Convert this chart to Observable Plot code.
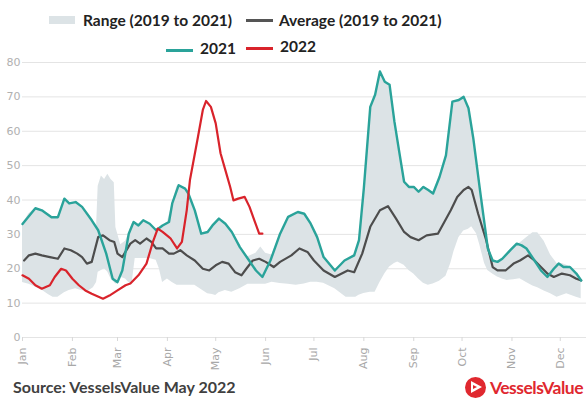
<!DOCTYPE html>
<html><head><meta charset="utf-8">
<script src="https://cdn.jsdelivr.net/npm/d3@7"></script>
<script src="https://cdn.jsdelivr.net/npm/@observablehq/plot@0.6"></script>
<style>
body{margin:0;background:#fff;}
#wrap{position:relative;width:586px;height:400px;overflow:hidden;font-family:Lato,"Open Sans",sans-serif;}
.lt{position:absolute;font-weight:700;font-size:15.5px;color:#222;white-space:nowrap;line-height:16px;}
.sw{position:absolute;}
#chart{position:absolute;left:0;top:56px;}
#cap{position:absolute;left:13px;top:378px;font-weight:700;font-size:16px;color:#404040;white-space:nowrap;line-height:18px;}
#logo{position:absolute;left:465px;top:377px;width:21px;height:21px;border-radius:50%;background:#e0282f;}
#tri{position:absolute;left:6px;top:4px;width:0;height:0;border-top:6.5px solid transparent;border-bottom:6.5px solid transparent;border-left:11px solid #fff;}
#tri2{position:absolute;left:8px;top:8px;width:0;height:0;border-top:2.5px solid transparent;border-bottom:2.5px solid transparent;border-left:4px solid #e0282f;}
#brand{position:absolute;left:490px;top:377px;font-weight:700;font-size:17.5px;color:#e0282f;white-space:nowrap;line-height:22px;letter-spacing:-0.5px;}
</style></head>
<body>
<div id="wrap">
  <div class="sw" style="left:49px;top:16px;width:26px;height:8px;background:#dce3e6"></div>
  <div class="lt" style="left:83px;top:12px">Range (2019 to 2021)</div>
  <div class="sw" style="left:246px;top:19px;width:27px;height:3px;background:#555"></div>
  <div class="lt" style="left:279px;top:12px">Average (2019 to 2021)</div>
  <div class="sw" style="left:166px;top:49px;width:27px;height:3px;background:#2aa39a"></div>
  <div class="lt" style="left:200px;top:40px">2021</div>
  <div class="sw" style="left:246px;top:47px;width:27px;height:3px;background:#d9232b"></div>
  <div class="lt" style="left:280px;top:38px">2022</div>
  <div id="chart"></div>
  <div id="cap">Source: VesselsValue May 2022</div>
  <div id="logo"><div id="tri"></div><div id="tri2"></div></div>
  <div id="brand">VesselsValue</div>
</div>
<script>
// x values are day offsets from 1 Jan
const yTicks = [0, 10, 20, 30, 40, 50, 60, 70, 80];
const monthDays = [0, 31, 59, 90, 120, 151, 181, 212, 243, 273, 304, 334];
const monthNames = ["Jan","Feb","Mar","Apr","May","Jun","Jul","Aug","Sep","Oct","Nov","Dec"];

const bandDays = [0,4,8,12,16,19,22,26,29,33,37,41,44,46,47,49,51,53,55,57,58,61,64,66,68,70,72,75,79,83,85,87,90,93,96,99,101,103,107,111,115,118,120,122,126,130,135,140,145,148,151,155,160,165,170,175,179,183,187,194,201,207,209,212,216,219,222,225,228,231,233,237,240,243,246,249,252,255,259,263,266,268,271,274,277,279,282,284,287,289,292,295,298,301,305,309,313,317,320,324,328,332,335,338,341,344,347];
const bandLow = [16,15.5,14.7,13.8,12.5,11.7,11.7,13,13.7,14.2,13.6,13.5,14.5,16,19,19.5,20,19,17,16,15.5,17.5,17,16,15.5,23,23,23,23,22.5,20,16,17,16,15.2,15.2,15.2,15.2,15.2,14,12.7,12.5,12.2,13,13.7,13.2,14.2,15.5,15.5,15.5,15.5,16.1,15.7,15.5,15.2,15.6,16.1,16.1,15.8,14.2,11.7,11.7,12.3,12.8,13.2,13.2,16,18.5,20.5,21.5,22,21,19.5,18.5,17,15.8,15.2,15.6,16.4,17.8,21.5,25,29,31,31.5,32.2,30.2,27,21.5,19.5,18.5,17.6,17,16.6,16.8,17.1,16,15,14.5,13.5,12.7,11.7,12.2,12.7,12.2,11.7,11.3];
const bandHigh = [33,36,37.6,37,36,35,35,40.4,39,39.4,38,36,34,32,44,47,46,47.5,46,45,32,27,28,30.2,33,33.5,32.6,34.1,33.1,31.2,32,32.6,33.5,39,44,44,43.3,41.9,37,30.2,30.7,32.6,33.5,34.6,33.1,30.7,26.3,23.5,24.5,26.3,24.5,24,30.2,35.1,36.5,36,33.1,29.2,23.4,19.8,22.4,24.5,28.3,43.4,67.1,70.6,77.4,74.4,73.5,62.8,57,45.3,43.8,43.8,42.4,43.8,42.9,41.9,46.7,53,62,68.6,69.1,70,66.7,62,50,43.4,31,25.9,22.4,22,22.9,24,26.5,27.5,29,30.5,30.5,28,24,21.5,21.5,21,20.3,18.6,17];

const avgDays = [1,4,8,12,17,22,26,30,34,37,40,43,47,50,54,57,59,62,67,70,73,77,80,83,87,91,94,98,102,107,112,116,120,124,128,132,136,139,143,147,151,156,160,167,172,177,181,187,194,202,206,211,216,222,227,232,237,241,246,251,258,262,266,270,274,277,279,283,288,292,295,300,305,309,314,318,322,326,330,335,340,344,347];
const avgVals = [22.4,23.9,24.4,23.9,23.4,22.9,25.9,25.4,24.4,23.4,21.5,22,29.2,29.7,28.3,27.8,24.4,23.4,27.3,28.3,27.3,28.8,27.8,25.9,25.9,24.4,24.4,25.4,23.9,22.4,20,19.5,21,22,21.5,19,18.1,20,22.4,22.9,22,20.5,22,23.9,25.9,24.9,22.4,19.5,17.6,19.5,19,24.4,32.2,37,38.2,34.6,30.7,29.2,28.3,29.7,30.2,33.6,37,40.9,42.9,43.8,42.9,36,28.3,20.5,19.5,19.5,21.5,22.4,23.9,22.4,20.5,18.6,17.6,18.6,18.1,17.1,16.6];

const days2021 = [0,8,12,18,22,26,29,33,37,43,47,52,56,59,62,66,69,72,75,79,83,87,91,93,97,101,103,107,111,115,118,122,126,130,135,140,145,149,154,160,165,171,175,179,183,187,194,200,206,209,212,216,219,222,225,228,231,234,237,240,243,246,249,252,255,259,263,267,271,274,277,280,284,289,292,295,298,303,307,310,313,318,322,326,330,333,336,340,344,347];
const vals2021 = [33,37.6,37,35,35,40.4,39,39.4,38,34.1,31.2,24.4,17.1,16.1,19.5,30.2,33.6,32.6,34.1,33.1,31.2,32.6,33.6,39,44.3,43.3,41.9,37,30.2,30.7,32.6,34.6,33.1,30.7,26.3,22.9,19.5,17.6,22.4,30.2,35.1,36.5,36,33.1,29.2,23.4,19.5,22.4,23.9,28.3,43.4,67.1,70.6,77.4,74.4,73.5,62.8,54,45.3,43.8,43.8,42.4,43.8,42.9,41.9,46.7,53,68.6,69.1,70,66.7,57.9,43.4,25.9,22.4,22,22.9,25.4,27.3,26.8,25.9,22.4,19.5,17.6,20,21.5,20.5,20.5,18.6,16.6];

const days2022 = [0,4,8,12,17,20,24,27,31,35,39,43,50,54,59,64,67,72,77,81,84,87,91,92,96,99,102,104,109,112,114,117,120,123,126,129,131,134,138,141,144,147,149];
const vals2022 = [18.1,17.1,15.2,14.2,15.2,17.6,20,19.5,17.1,15.2,13.7,12.7,11.3,12.2,13.7,15.2,15.7,18.1,21.5,27.8,31.7,30.7,29.2,28.8,25.9,27.8,37,45.8,58.4,66.2,68.8,67.1,62.3,53.6,48.7,43.8,39.9,40.4,40.9,38,34.1,30.2,30.2];

const day0 = Date.UTC(2022, 0, 1);
const toDate = d => new Date(day0 + d * 864e5);
const band = bandDays.map((d, i) => ({date: toDate(d), low: bandLow[i], high: bandHigh[i]}));
const avg = avgDays.map((d, i) => ({date: toDate(d), v: avgVals[i]}));
const s2021 = days2021.map((d, i) => ({date: toDate(d), v: vals2021[i]}));
const s2022 = days2022.map((d, i) => ({date: toDate(d), v: vals2022[i]}));
const monthDates = monthDays.map(toDate);

const chart = Plot.plot({
  width: 586, height: 316,
  marginTop: 6, marginBottom: 35, marginLeft: 22, marginRight: 0,
  style: {background: "transparent", fontFamily: "DejaVu Sans", overflow: "visible"},
  x: {type: "utc", domain: [toDate(0), toDate(350.3)]},
  y: {domain: [0, 80]},
  marks: [
    Plot.ruleY(yTicks, {stroke: "#e4e4e4", strokeWidth: 1}),
    Plot.areaY(band, {x: "date", y1: "low", y2: "high", fill: "#dce3e6"}),
    Plot.lineY(avg, {x: "date", y: "v", stroke: "#4d4d4d", strokeWidth: 2.2}),
    Plot.lineY(s2021, {x: "date", y: "v", stroke: "#2aa39a", strokeWidth: 2.4}),
    Plot.lineY(s2022, {x: "date", y: "v", stroke: "#d9232b", strokeWidth: 2.2}),
    Plot.axisY(yTicks, {tickSize: 0, tickPadding: 2, fill: "#b0b0b0", fontSize: 11, label: null}),
    Plot.axisX(monthDates, {tickFormat: d => monthNames[d.getUTCMonth()], tickRotate: -90, tickSize: 4, tickPadding: 6, stroke: "#d8d8d8", fill: "#a8a8a8", fontSize: 11, label: null})
  ]
});
document.getElementById("chart").appendChild(chart);
</script>
</body></html>
